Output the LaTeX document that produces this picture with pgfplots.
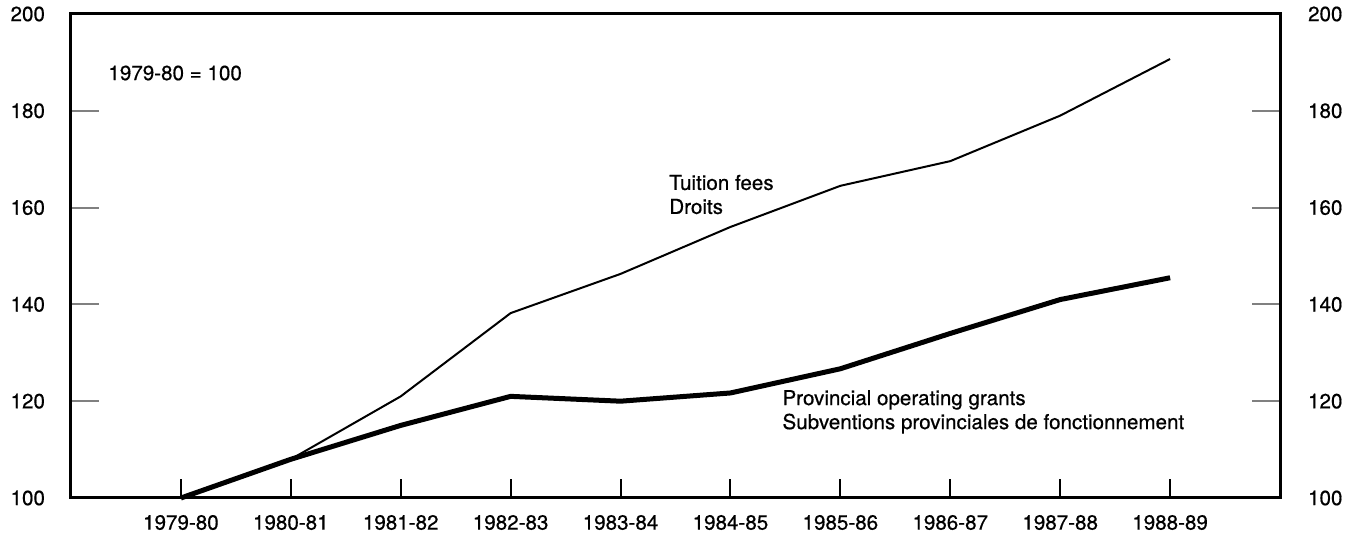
\documentclass[border=0pt]{standalone}
\usepackage{pgfplots}
\pgfplotsset{compat=1.18}
\usepackage{fontspec}
\setmainfont{TeX Gyre Heros}[FakeBold=0.6]
\pgfplotstableread{
x tuition grants
0 100 100
1 108 108
2 121 115
3 138.2 121
4 146.3 120
5 156 121.7
6 164.5 126.7
7 169.6 134
8 179 141
9 190.7 145.5
}\datatable
\begin{document}
\begin{tikzpicture}
\useasboundingbox (-35.5pt,-18pt) rectangle (643.5pt,249pt);
\begin{axis}[
  at={(0,0)}, anchor=south west,
  scale only axis, width=604.5pt, height=242pt,
  xmin=-1, xmax=10, ymin=100, ymax=200,
  axis line style={line width=1.5pt},
  xtick={0,...,9},
  xticklabels={1979-80,1980-81,1981-82,1982-83,1983-84,1984-85,1985-86,1986-87,1987-88,1988-89},
  xtick pos=bottom,
  xtick style={draw=none},
  xticklabel style={font=\fontsize{10.3}{12}\selectfont, yshift=-5pt},
  ytick={100,120,...,200},
  ytick pos=both,
  tick align=inside,
  major tick length=14pt,
  ytick style={line width=1pt},
  yticklabel pos=left,
  yticklabel style={font=\fontsize{10.3}{12}\selectfont, xshift=-9.5pt},
  /pgf/number format/assume math mode=true,
  clip=false,
]
\addplot[black, line width=1pt] table[x=x, y=tuition] {\datatable};
\addplot[black, line width=2.5pt, line join=round] table[x=x, y=grants] {\datatable};
\node[anchor=west, font=\fontsize{10.3}{12}\selectfont, inner sep=0pt] at (axis cs:-0.663,187.8) {1979-80 = 100};
\node[anchor=west, align=left, font=\fontsize{10.3}{12}\selectfont, inner sep=0pt] at (axis cs:4.44,162.7) {Tuition fees\\Droits};
\node[anchor=west, align=left, font=\fontsize{10.3}{12}\selectfont, inner sep=0pt] at (axis cs:5.47,117.8) {Provincial operating grants\\Subventions provinciales de fonctionnement};
\end{axis}
\begin{axis}[
  at={(0,0)}, anchor=south west,
  scale only axis, width=604.5pt, height=242pt,
  xmin=-1, xmax=10, ymin=100, ymax=200,
  axis line style={draw=none},
  xtick={0,...,9}, xticklabels={},
  xtick pos=bottom,
  tick align=inside,
  major tick length=9.5pt,
  xtick style={line width=1pt, black},
  ytick={100,120,...,200},
  ytick style={draw=none},
  yticklabel pos=right,
  yticklabel style={font=\fontsize{10.3}{12}\selectfont, xshift=10.5pt},
  /pgf/number format/assume math mode=true,
]
\end{axis}
\end{tikzpicture}
\end{document}
